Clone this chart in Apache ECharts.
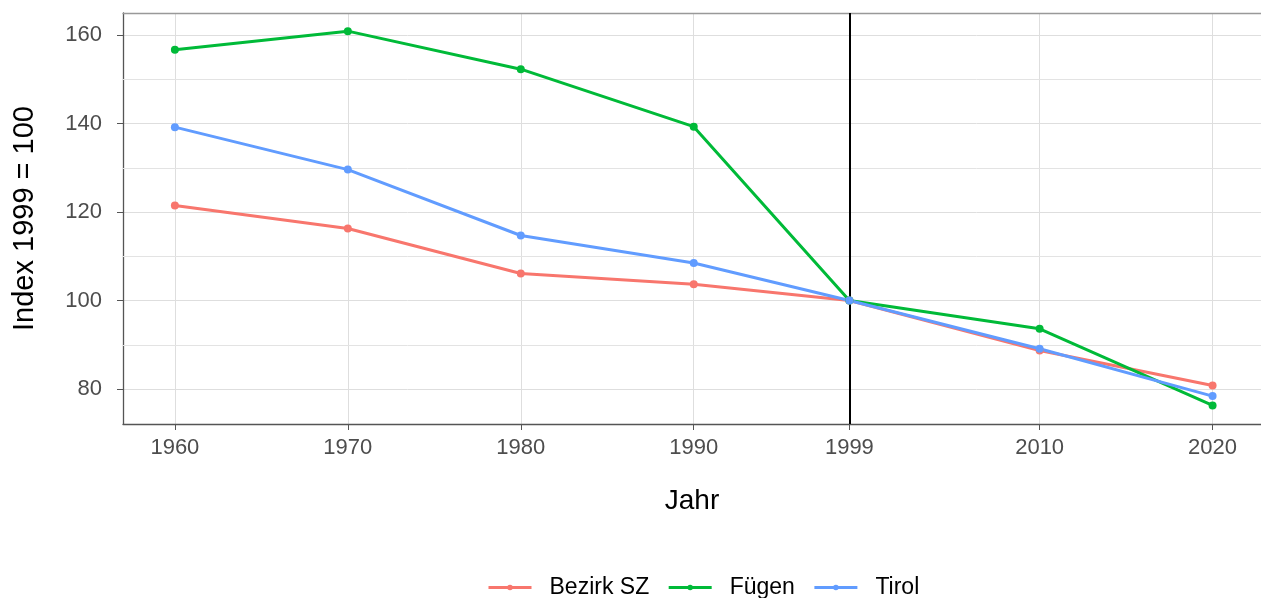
<!DOCTYPE html>
<html>
<head>
<meta charset="utf-8">
<script src="https://cdn.jsdelivr.net/npm/echarts@6/dist/echarts.min.js"></script>
<style>
  html, body { margin: 0; padding: 0; background: #fff; }
  #chart { width: 1261px; height: 598px; }
</style>
</head>
<body>
<div id="chart"></div>
<script>
// Jahre (x-Achse, Wertachse)
var years = [1960, 1970, 1980, 1990, 1999, 2010, 2020];
var yTicks = [80, 100, 120, 140, 160];
var yMinor = [90, 110, 130, 150];
// Index 1999 = 100
var bezirkSZ = [121.5, 116.3, 106.1, 103.7, 100, 88.7, 80.8];
var fuegen = [156.7, 160.9, 152.3, 139.3, 100, 93.6, 76.3];
var tirol = [139.2, 129.6, 114.7, 108.5, 100, 89.1, 78.4];
var refYear = 1999;

var fontName = '"Liberation Sans", Arial, sans-serif';
var colors = ['#F8766D', '#00BA38', '#619CFF'];

function pairs (vals) {
    var out = [];
    for (var i = 0; i < years.length; i++) {
        out.push([years[i], vals[i]]);
    }
    return out;
}

function lineSeries (name, vals, color) {
    return {
        name: name,
        type: 'line',
        data: pairs(vals),
        symbol: 'circle',
        symbolSize: 8,
        lineStyle: { color: color, width: 3 },
        itemStyle: { color: color },
        z: 5
    };
}

var myChart = echarts.init(document.getElementById('chart'));

//Nebengitterlinien
var gridLines = [];
for (var k = 0; k < yMinor.length; k++) {
    gridLines.push({ yAxis: yMinor[k] });
}

var series = [
    lineSeries('Bezirk SZ', bezirkSZ, colors[0]),
    lineSeries('Fügen', fuegen, colors[1]),
    lineSeries('Tirol', tirol, colors[2]),
    {
        name: 'helper',
        type: 'line',
        data: [],
        markLine: {
            silent: true,
            symbol: 'none',
            label: { show: false },
            lineStyle: { color: '#e3e3e3', width: 1, type: 'solid' },
            data: gridLines
        },
        z: 1
    },
    {
        name: 'ref',
        type: 'line',
        data: [],
        markLine: {
            silent: true,
            symbol: 'none',
            label: { show: false },
            lineStyle: { color: '#000', width: 2, type: 'solid' },
            data: [{ xAxis: refYear }]
        },
        z: 4
    }
];

var option = {
    animation: false,
    backgroundColor: '#fff',
    textStyle: { fontFamily: fontName },
    grid: { left: 123, right: 0, top: 13, bottom: 174 },
    legend: {
        data: ['Bezirk SZ', 'Fügen', 'Tirol'],
        left: 487,
        top: 576,
        padding: 0,
        itemWidth: 43,
        itemHeight: 7,
        itemGap: 18,
        lineStyle: { width: 3 },
        textStyle: { fontSize: 23, color: '#000', padding: [0, 0, 0, 13], fontFamily: fontName }
    },
    xAxis: [{
        type: 'value',
        min: 1957,
        max: 2022.8,
        name: 'Jahr',
        nameLocation: 'middle',
        nameGap: 63,
        nameTextStyle: { fontSize: 28, color: '#000', fontFamily: fontName },
        axisLine: { show: true, lineStyle: { color: '#555', width: 1.3 } },
        axisTick: { show: true, length: 6, customValues: years, lineStyle: { color: '#555' } },
        axisLabel: { customValues: years, fontSize: 22, color: '#4d4d4d', margin: 13, formatter: function (v) { return String(v); } },
        splitLine: { show: true, lineStyle: { color: '#dedede', width: 1 } }
    }, {
        type: 'value',
        position: 'top',
        min: 1957,
        max: 2022.8,
        axisLine: { show: true, onZero: false, lineStyle: { color: '#999', width: 1.3 } },
        axisTick: { show: false },
        axisLabel: { show: false },
        splitLine: { show: false }
    }],
    yAxis: {
        type: 'value',
        min: 72.09,
        max: 165,
        name: 'Index 1999 = 100',
        nameLocation: 'middle',
        nameGap: 84,
        nameTextStyle: { fontSize: 29, color: '#000', fontFamily: fontName },
        axisLine: { show: true, lineStyle: { color: '#555', width: 1.3 } },
        axisTick: { show: true, length: 6, customValues: yTicks, lineStyle: { color: '#555' } },
        axisLabel: { customValues: yTicks, fontSize: 22, color: '#4d4d4d', margin: 21 },
        splitLine: { show: true, lineStyle: { color: '#dedede', width: 1 } }
    },
    series: series
};

myChart.setOption(option);
window.onresize = function () {
    myChart.resize();
};
</script>
</body>
</html>
